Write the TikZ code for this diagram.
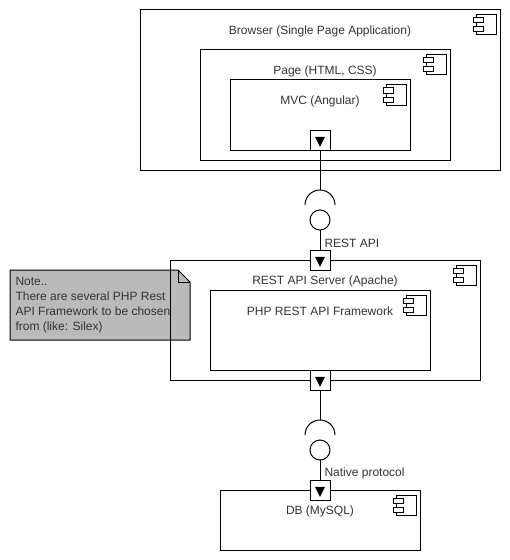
\documentclass[tikz,border=0pt]{standalone}
\usepackage{fontspec}
\setmainfont{Liberation Sans}
\usepackage{tikz}
\usetikzlibrary{shapes.geometric, positioning, calc}
\newcommand{\px}{0.75pt}
\definecolor{notegray}{HTML}{BABABA}
\definecolor{textgray}{HTML}{333333}
\tikzstyle{compbox} = [rectangle,
inner sep=0pt,
outer sep=0pt,
draw=black]
\tikzstyle{boxlabel} = [inner sep=0pt,
text=textgray,
font=\fontsize{9}{11.25}\selectfont]
\tikzstyle{port} = [rectangle,
minimum size=20*\px,
inner sep=0pt,
outer sep=0pt,
draw=black, fill=white]
\tikzstyle{porthead} = [isosceles triangle,
isosceles triangle stretches,
shape border rotate=-90,
minimum width=10*\px,
minimum height=10*\px,
inner sep=0pt,
fill=black]
\tikzstyle{ball} = [circle,
minimum size=20*\px,
inner sep=0pt,
outer sep=0pt,
draw=black, fill=white]
\tikzstyle{line} = [draw=black, line width=\px]
% component icon in the top right corner of a box
\newcommand{\compicon}[1]{
    \coordinate (icon) at ([shift={(-24,5)}]#1.north east);
    \draw [line] (icon) rectangle ++(20,20);
    \draw [line, fill=white] ([shift={(-3,3)}]icon) rectangle ++(10,5);
    \draw [line, fill=white] ([shift={(-3,12)}]icon) rectangle ++(10,5);
}

\begin{document}
\begin{tikzpicture}[x=\px, y=-\px, line width=\px]
            \useasboundingbox (0,0) rectangle (510,560);

            % note goes first, the server box runs over it
            \draw [line, fill=notegray] (10,270) -- (178,270) -- (190,282) -- (190,340) -- (10,340) -- cycle;
            \draw [line] (178,270) -- (178,282) -- (190,282);
            \node (note) [boxlabel, anchor=north west, align=left] at (15,277) {Note..\\There are several PHP Rest\\API Framework to be chosen\\from (like: Silex)};

            \node (browser) [compbox, minimum width=360*\px, minimum height=160*\px] at (320,90) {};
            \node (page) [compbox, minimum width=250*\px, minimum height=110*\px] at (325,105) {};
            \node (mvc) [compbox, minimum width=180*\px, minimum height=70*\px] at (320,115) {};
            \node (server) [compbox, minimum width=310*\px, minimum height=120*\px] at (325,320) {};
            \node (framework) [compbox, minimum width=220*\px, minimum height=80*\px] at (320,330) {};
            \node (db) [compbox, minimum width=200*\px, minimum height=60*\px] at (320,520) {};

            \node (browserlabel) [boxlabel] at (320,31) {Browser (Single Page Application)};
            \node (pagelabel) [boxlabel] at (325,71) {Page (HTML, CSS)};
            \node (mvclabel) [boxlabel] at (320,101) {MVC (Angular)};
            \node (serverlabel) [boxlabel] at (325,281) {REST API Server (Apache)};
            \node (frameworklabel) [boxlabel] at (320,311) {PHP REST API Framework};
            \node (dblabel) [boxlabel] at (320,511) {DB (MySQL)};

            \compicon{browser}
            \compicon{page}
            \compicon{mvc}
            \compicon{server}
            \compicon{framework}
            \compicon{db}

            \node (port1) [port] at (320,140) {};
            \node (port2) [port] at (320,260) {};
            \node (port3) [port] at (320,380) {};
            \node (port4) [port] at (320,490) {};
            \node (head1) [porthead] at (320,140) {};
            \node (head2) [porthead] at (320,260) {};
            \node (head3) [porthead] at (320,380) {};
            \node (head4) [porthead] at (320,490) {};

            \coordinate (socket1) at (320,190);
            \coordinate (socket2) at (320,420);
            \node (ball1) [ball] at (320,220) {};
            \node (ball2) [ball] at (320,450) {};

            \draw [line] (port1) -- (socket1);
            \draw [line] ([shift={(-15,15)}]socket1) arc[start angle=180, end angle=360, radius=15];
            \draw [line] (ball1) -- (port2);
            \draw [line] (port3) -- (socket2);
            \draw [line] ([shift={(-15,15)}]socket2) arc[start angle=180, end angle=360, radius=15];
            \draw [line] (ball2) -- (port4);

            \node (restlabel) [boxlabel, anchor=west] at (324,243) {REST API};
            \node (nativelabel) [boxlabel, anchor=west] at (324,473) {Native protocol};
        \end{tikzpicture}
\end{document}
